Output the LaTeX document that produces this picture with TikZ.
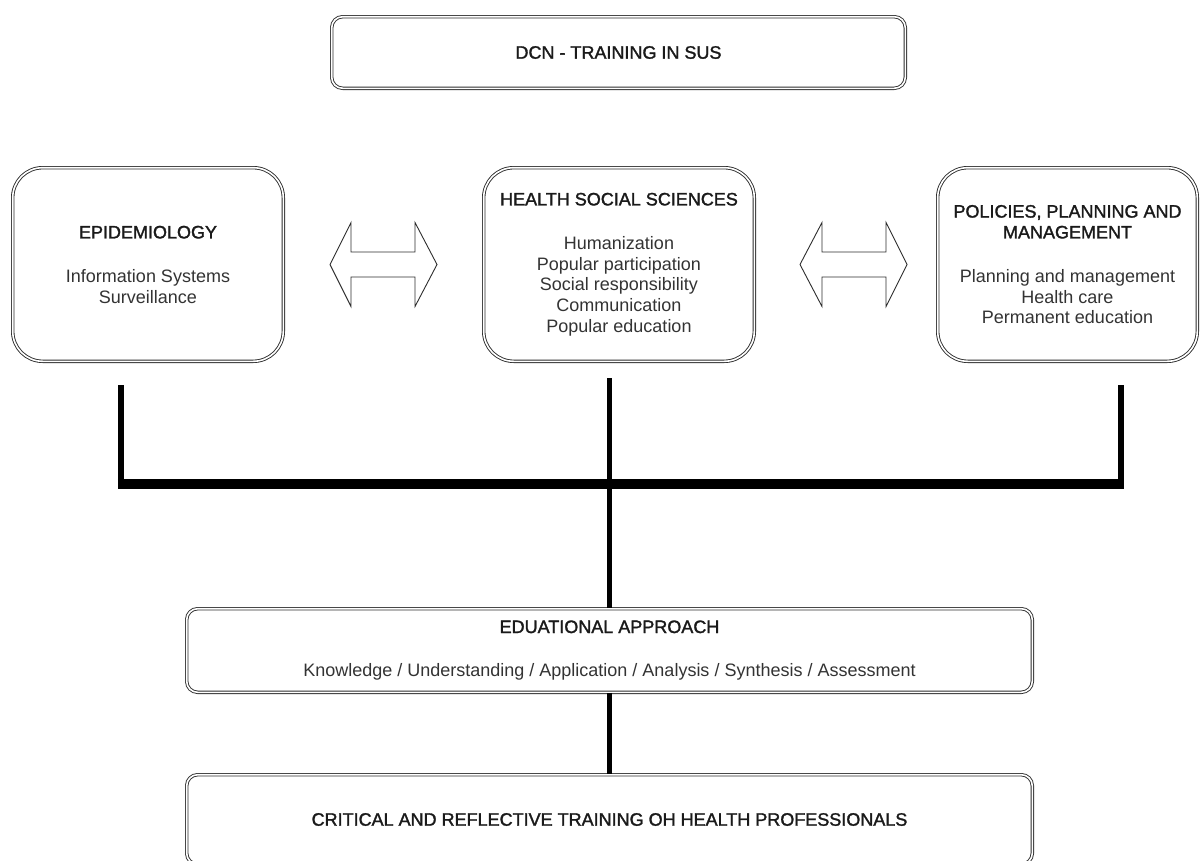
\documentclass[tikz,border=0pt]{standalone}
\usepackage{fontspec}
\setmainfont{Liberation Sans}
\newfontfamily\ttlfont[FakeBold=1.6]{Liberation Sans}
\definecolor{bodytxt}{HTML}{333333}
\definecolor{ttltxt}{HTML}{1A1A1A}
\definecolor{edgecol}{HTML}{2E2E2E}
\newcommand{\ttl}{\color{ttltxt}\ttlfont}
\begin{document}
\begin{tikzpicture}[x=1pt,y=-1pt,
  dbox/.style={draw=edgecol, line width=0.9pt, double=white, double distance=1.6pt,
    rounded corners=#1, inner sep=0pt, align=center,
    font=\fontsize{18}{20.8}\selectfont, text=bodytxt},
  dbox/.default=11pt,
  fatarrow/.style={draw=edgecol, line width=0.9pt, fill=white, line join=miter},
  sideline/.style={line width=6.5pt, black},
  midline/.style={line width=5.8pt, black},
  barline/.style={line width=10pt, black},
  lowline/.style={line width=5pt, black}
]
\useasboundingbox (0,0) rectangle (1200,860);

% boxes
\node[dbox=11pt, minimum width=573.6pt, minimum height=71.6pt] (top) at (618.5,52.5)
  {{\ttl DCN - TRAINING IN SUS}};
\node[dbox=30pt, minimum width=270.6pt, minimum height=193.6pt] (epi) at (148,264.5)
  {{\ttl EPIDEMIOLOGY}\\[23pt]Information Systems\\Surveillance};
\node[dbox=30pt, minimum width=270.6pt, minimum height=193.6pt] (hsc) at (619,264.5)
  {{\ttl HEALTH SOCIAL SCIENCES}\\[23pt]Humanization\\Popular participation\\Social responsibility\\Communication\\Popular education};
\node[dbox=30pt, minimum width=259.6pt, minimum height=193.6pt] (ppm) at (1067.5,264.5)
  {{\ttl POLICIES, PLANNING AND}\\{\ttl MANAGEMENT}\\[23pt]Planning and management\\Health care\\Permanent education};
\node[dbox=11pt, minimum width=845.6pt, minimum height=83.6pt] (edu) at (609.5,650.5)
  {{\ttl EDUATIONAL APPROACH}\\[23pt]Knowledge / Understanding / Application / Analysis / Synthesis / Assessment};
\node[dbox=11pt, minimum width=845.6pt, minimum height=89.6pt] (crit) at (609.5,819.5)
  {{\ttl CRITICAL AND REFLECTIVE TRAINING OH HEALTH PROFESSIONALS}};

% double block arrows
\draw[fatarrow] (330,264.5) -- (351,222.5) -- (351,252) -- (415,252) -- (415,222.5)
  -- (437,264.5) -- (415,306.5) -- (415,277) -- (351,277) -- (351,306.5) -- cycle;
\draw[fatarrow] (800,264.5) -- (822,222.5) -- (822,252) -- (886,252) -- (886,222.5)
  -- (907,264.5) -- (886,306.5) -- (886,277) -- (822,277) -- (822,306.5) -- cycle;

% connector coordinates
\coordinate (lTop) at (121,385);
\coordinate (lBot) at (121,489);
\coordinate (rTop) at (1121,385);
\coordinate (rBot) at (1121,489);
\coordinate (barL) at (117.75,484);
\coordinate (barR) at (1124.25,484);
\coordinate (mTop) at (609.5,378);

% connectors
\draw[sideline] (lTop) -- (lBot);
\draw[sideline] (rTop) -- (rBot);
\draw[barline] (barL) -- (barR);
\draw[midline] (mTop) -- (mTop |- edu.north);
\draw[lowline] (edu.south) -- (crit.north);
\end{tikzpicture}
\end{document}
